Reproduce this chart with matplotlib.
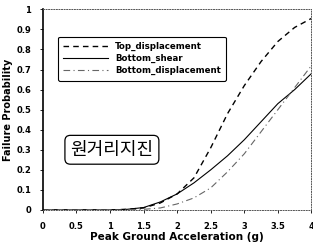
import matplotlib.pyplot as plt
from matplotlib.ticker import MultipleLocator

pga = [0, 0.25, 0.5, 0.75, 1.0, 1.25, 1.5, 1.75, 2.0, 2.25, 2.5, 2.75, 3.0, 3.25, 3.5, 3.75, 4.0]
top_disp = [0, 0, 0, 0, 0, 0.003, 0.01, 0.035, 0.08, 0.16, 0.31, 0.48, 0.62, 0.74, 0.84, 0.91, 0.955]
bottom_shear = [0, 0, 0, 0, 0, 0.003, 0.012, 0.04, 0.08, 0.135, 0.20, 0.27, 0.35, 0.44, 0.53, 0.60, 0.68]
bottom_disp = [0, 0, 0, 0, 0, 0, 0.003, 0.01, 0.03, 0.06, 0.11, 0.19, 0.28, 0.39, 0.50, 0.61, 0.72]

plt.rcParams['font.family'] = ['DejaVu Sans']

fig = plt.figure(figsize=(3.13, 2.47), dpi=100)
ax = fig.add_axes([0.137, 0.15, 0.858, 0.812])

ax.plot(pga, top_disp, color='black', linestyle=(0, (4, 3)), lw=1.0, label='Top_displacement')
ax.plot(pga, bottom_shear, color='black', linestyle='-', lw=0.8, label='Bottom_shear')
ax.plot(pga, bottom_disp, color='#666666', linestyle=(0, (6, 3, 1, 3)), lw=0.8, label='Bottom_displacement')

ax.set_xlim(0, 4)
ax.set_ylim(0, 1)
ax.set_xticks([0, 0.5, 1, 1.5, 2, 2.5, 3, 3.5, 4])
ax.set_xticklabels(['0', '0.5', '1', '1.5', '2', '2.5', '3', '3.5', '4'])
ax.set_yticks([0, 0.1, 0.2, 0.3, 0.4, 0.5, 0.6, 0.7, 0.8, 0.9, 1])
ax.set_yticklabels(['0', '0.1', '0.2', '0.3', '0.4', '0.5', '0.6', '0.7', '0.8', '0.9', '1'])
ax.tick_params(labelsize=6, length=2.5, width=0.6, pad=6)
for lab in ax.get_xticklabels() + ax.get_yticklabels():
    lab.set_fontweight('bold')

ax.spines['left'].set_linewidth(1.2)
for side in ['top', 'right', 'bottom']:
    ax.spines[side].set_linestyle(':')
    ax.spines[side].set_color('#555555')
    ax.spines[side].set_linewidth(0.7)

ax.set_xlabel('Peak Ground Acceleration (g)', fontsize=7.5, fontweight='bold', labelpad=1)
ax.set_ylabel('Failure Probability', fontsize=7, fontweight='bold', labelpad=2)

leg = ax.legend(loc='upper left', bbox_to_anchor=(0.04, 0.885),
                prop={'weight': 'bold', 'size': 6.2}, handlelength=5.2,
                labelspacing=0.35, borderpad=0.6, fancybox=True, framealpha=1)
leg.get_frame().set_edgecolor('black')
leg.get_frame().set_linewidth(0.8)

ax.text(0.257, 0.30, '원거리지진', transform=ax.transAxes, fontsize=13,
        family=['Noto Sans CJK KR', 'DejaVu Sans'], ha='center', va='center',
        bbox=dict(boxstyle='round,pad=0.3', fc='white', ec='black', lw=0.9))

fig.savefig('out.png', dpi=100)
